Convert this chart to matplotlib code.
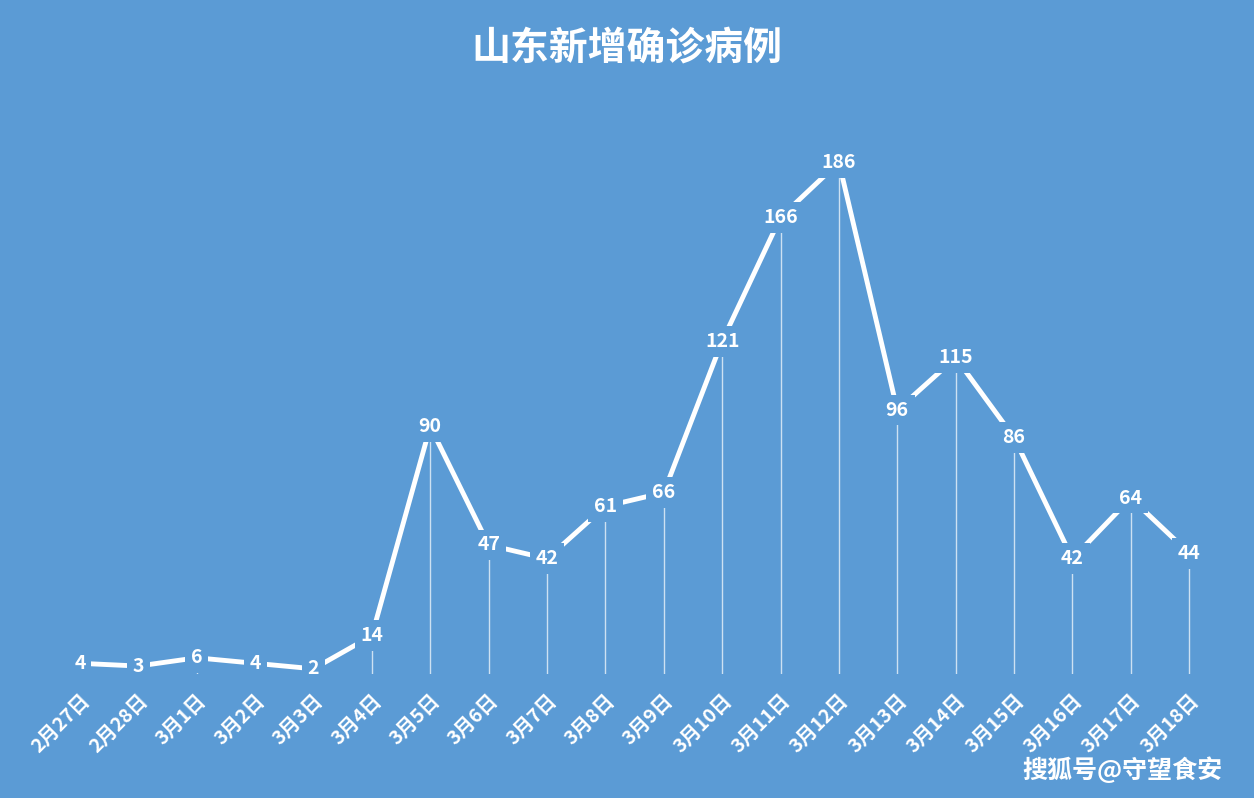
import matplotlib
matplotlib.use("Agg")
import matplotlib.pyplot as plt

plt.rcParams['font.family'] = ['Noto Sans CJK SC', 'DejaVu Sans']

BG = "#5b9bd5"

dates = ["2月27日", "2月28日"] + [f"3月{d}日" for d in range(1, 19)]
cases = [4, 3, 6, 4, 2, 14, 90, 47, 42, 61, 66, 121, 166, 186, 96, 115, 86, 42, 64, 44]

fig = plt.figure(figsize=(12.54, 7.98), dpi=100, facecolor=BG)
ax = fig.add_axes([0.04, 0.155, 0.933, 0.69], facecolor=BG)
x = list(range(len(cases)))

# drop lines
for xi, v in zip(x, cases):
    ax.plot([xi, xi], [0, v], color="white", lw=1, alpha=0.7, zorder=1)

ax.plot(x, cases, color="white", lw=3.5, zorder=2, solid_capstyle="butt")
for xi, v in zip(x, cases):
    ax.text(xi, v, str(v), ha="center", va="center", color="white",
            fontsize=14, fontweight="bold", zorder=3,
            bbox=dict(boxstyle="square,pad=0.3", fc=BG, ec="none"))

ax.set_xlim(-0.51, 19.53)
ax.set_ylim(0, 200)
ax.set_yticks([])
ax.set_xticks(x)
ax.set_xticklabels(dates, rotation=45, ha="right", rotation_mode="anchor",
                   color="white", fontsize=14, fontweight="bold")
ax.tick_params(axis="x", length=0, pad=12)
for s in ax.spines.values():
    s.set_visible(False)

fig.text(0.5, 0.94, "山东新增确诊病例", ha="center", va="center",
         color="white", fontsize=28, fontweight="bold")
fig.text(0.975, 0.035, "搜狐号@守望食安", ha="right", va="center",
         color="white", fontsize=18, fontweight="bold")

fig.savefig("out.png", dpi=100, facecolor=BG)
